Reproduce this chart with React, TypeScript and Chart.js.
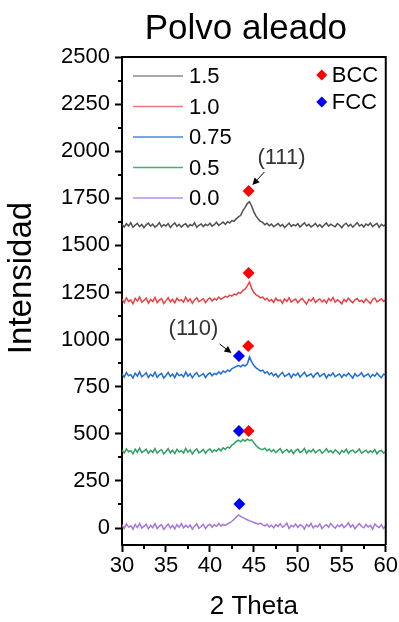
import React, { useEffect, useRef } from 'react';
import { Chart, registerables } from 'chart.js';

Chart.register(...registerables);

// 2θ (degrees)
const twoTheta = [
  30, 30.25, 30.5, 30.75, 31, 31.25, 31.5, 31.75, 32, 32.25,
  32.5, 32.75, 33, 33.25, 33.5, 33.75, 34, 34.25, 34.5, 34.75,
  35, 35.25, 35.5, 35.75, 36, 36.25, 36.5, 36.75, 37, 37.25,
  37.5, 37.75, 38, 38.25, 38.5, 38.75, 39, 39.25, 39.5, 39.75,
  40, 40.25, 40.5, 40.75, 41, 41.25, 41.5, 41.75, 42, 42.25,
  42.5, 42.75, 43, 43.25, 43.5, 43.75, 44, 44.25, 44.5, 44.75,
  45, 45.25, 45.5, 45.75, 46, 46.25, 46.5, 46.75, 47, 47.25,
  47.5, 47.75, 48, 48.25, 48.5, 48.75, 49, 49.25, 49.5, 49.75,
  50, 50.25, 50.5, 50.75, 51, 51.25, 51.5, 51.75, 52, 52.25,
  52.5, 52.75, 53, 53.25, 53.5, 53.75, 54, 54.25, 54.5, 54.75,
  55, 55.25, 55.5, 55.75, 56, 56.25, 56.5, 56.75, 57, 57.25,
  57.5, 57.75, 58, 58.25, 58.5, 58.75, 59, 59.25, 59.5, 59.75,
  60,
];

const seriesLabels = ['1.5', '1.0', '0.75', '0.5', '0.0'];

const intensity15 = [
  1612, 1598, 1615, 1603, 1620, 1596, 1608, 1617, 1600, 1611,
  1594, 1609, 1618, 1602, 1613, 1597, 1606, 1621, 1599, 1610,
  1603, 1616, 1595, 1608, 1619, 1601, 1612, 1597, 1609, 1615,
  1598, 1611, 1604, 1620, 1596, 1607, 1614, 1600, 1612, 1605,
  1618, 1602, 1610, 1623, 1606, 1615, 1624, 1612, 1626, 1619,
  1632, 1628, 1641, 1652, 1660, 1685, 1702, 1722, 1732, 1708,
  1678, 1655, 1640, 1628, 1622, 1610, 1618, 1604, 1613, 1599,
  1608, 1616, 1602, 1611, 1595, 1607, 1618, 1601, 1610, 1604,
  1615, 1597, 1609, 1620, 1603, 1612, 1598, 1606, 1617, 1600,
  1611, 1596, 1608, 1619, 1602, 1613, 1605, 1599, 1616, 1607,
  1594, 1610, 1618, 1601, 1612, 1597, 1608, 1621, 1603, 1611,
  1598, 1614, 1606, 1619, 1600, 1609, 1617, 1596, 1612, 1604,
  1610,
];

const intensity10 = [
  1215, 1196, 1222, 1203, 1211, 1190, 1219, 1205, 1226, 1198,
  1209, 1221, 1194, 1213, 1202, 1224, 1197, 1210, 1218, 1192,
  1207, 1223, 1200, 1214, 1195, 1220, 1206, 1212, 1199, 1225,
  1203, 1216, 1193, 1211, 1222, 1201, 1209, 1217, 1196, 1213,
  1221, 1205, 1218, 1210, 1226, 1214, 1222, 1230, 1225, 1236,
  1231, 1242, 1238, 1250, 1247, 1262, 1268, 1285, 1306, 1272,
  1250, 1238, 1231, 1222, 1226, 1212, 1219, 1204, 1213, 1198,
  1220, 1206, 1211, 1193, 1216, 1203, 1222, 1199, 1208, 1215,
  1196, 1210, 1219, 1202, 1188, 1214, 1205, 1221, 1197, 1208,
  1216, 1200, 1211, 1194, 1218, 1206, 1223, 1199, 1212, 1203,
  1190, 1214, 1201, 1220, 1207, 1195, 1211, 1218, 1202, 1209,
  1197, 1216, 1204, 1192, 1213, 1221, 1200, 1208, 1217, 1203,
  1211,
];

const intensity075 = [
  818, 801, 825, 808, 814, 797, 822, 806, 829, 803,
  812, 824, 799, 816, 805, 827, 800, 813, 821, 796,
  810, 826, 804, 817, 798, 823, 809, 815, 802, 828,
  806, 819, 797, 814, 825, 804, 811, 820, 799, 816,
  824, 808, 821, 815, 829, 818, 833, 826, 838, 832,
  846, 851, 858, 862, 856, 866, 860, 870, 908, 882,
  862, 850, 842, 833, 838, 822, 830, 814, 824, 808,
  819, 801, 815, 826, 805, 812, 821, 798, 817, 809,
  823, 802, 814, 827, 806, 811, 819, 800, 816, 825,
  804, 813, 820, 797, 815, 808, 824, 803, 811, 818,
  799, 816, 807, 822, 810, 796, 819, 805, 813, 824,
  802, 811, 818, 800, 815, 806, 823, 809, 798, 817,
  812,
];

const intensity05 = [
  414, 398, 420, 405, 411, 394, 418, 402, 424, 400,
  409, 419, 396, 412, 401, 422, 397, 410, 416, 393,
  406, 421, 399, 413, 395, 418, 404, 411, 398, 423,
  402, 415, 394, 410, 420, 399, 407, 417, 396, 412,
  419, 403, 415, 408, 422, 410, 426, 418, 430, 425,
  441, 448, 460, 466, 458, 470, 462, 472, 465, 468,
  452, 438, 426, 420, 416, 424, 410, 419, 405, 416,
  400, 412, 421, 398, 409, 417, 402, 414, 395, 411,
  419, 401, 408, 423, 397, 413, 404, 418, 399, 410,
  416, 396, 407, 421, 403, 412, 398, 415, 405, 393,
  411, 402, 418, 396, 409, 414, 400, 407, 419, 397,
  405, 413, 399, 410, 402, 416, 394, 408, 412, 398,
  406,
];

const intensity00 = [
  16, -2, 22, 5, 12, -6, 19, 3, 25, 0,
  9, 20, -4, 14, 2, 23, -3, 11, 17, -7,
  7, 21, 0, 13, -5, 18, 4, 24, 1, 15,
  3, 16, -6, 10, 22, -1, 8, 19, -3, 13,
  20, 4, 17, 9, 24, 11, 19, 14, 22, 28,
  36, 47, 58, 70, 62, 55, 50, 44, 38, 35,
  29, 25, 21, 26, 17, 12, 20, 6, 15, 1,
  18, 9, 23, 4, 12, 26, -2, 14, 7, 21,
  3, 17, 10, -5, 19, 8, 24, 0, 13, 6,
  22, -3, 11, 18, 4, 25, 9, -1, 16, 7,
  20, 2, 13, 28, 5, 17, -4, 12, 23, 8,
  1, 19, 6, 14, -6, 21, 10, 3, 17, -2,
  11,
];

const bccAngles = [44.4, 44.4, 44.35, 44.4];
const bccIntensities = [1789, 1354, 966, 515];
const fccAngles = [43.3, 43.3, 43.35];
const fccIntensities = [913, 515, 127];

const yTickValues = [0, 250, 500, 750, 1000, 1250, 1500, 1750, 2000, 2250, 2500];
const yMinorValues = [125, 375, 625, 875, 1125, 1375, 1625, 1875, 2125, 2375];
const xMinorValues = [32.5, 37.5, 42.5, 47.5, 52.5, 57.5];

const FONT = '"Liberation Sans", Arial, Helvetica, sans-serif';

const lineColors = ['#505050', '#ea4244', '#1e6ed8', '#2ea062', '#a676dc'];
const legendLineColors = ['#8a8a8a', '#f07a7a', '#4a88e0', '#3cb36f', '#b690e2'];

const annotations = [
  { text: '(111)', tx: 45.4, ty: 1964, from: [46.2, 1890], to: [44.83, 1821] },
  { text: '(110)', tx: 35.3, ty: 1056, from: [41.1, 977], to: [42.45, 929] },
];

const decorPlugin = {
  id: 'decor',
  afterDraw(chart: any) {
    const { ctx, chartArea: a, scales } = chart;
    const xs = scales.x;
    const ys = scales.y;
    ctx.save();
    // frame top & right
    ctx.strokeStyle = '#000';
    ctx.lineWidth = 2;
    ctx.beginPath();
    ctx.moveTo(a.left, a.top);
    ctx.lineTo(a.right, a.top);
    ctx.lineTo(a.right, a.bottom);
    ctx.stroke();
    // minor ticks
    ctx.lineWidth = 2;
    ctx.beginPath();
    yMinorValues.forEach((v) => {
      const py = Math.round(ys.getPixelForValue(v));
      ctx.moveTo(a.left, py);
      ctx.lineTo(a.left - 4, py);
    });
    xMinorValues.forEach((v) => {
      const px = Math.round(xs.getPixelForValue(v));
      ctx.moveTo(px, a.bottom);
      ctx.lineTo(px, a.bottom + 4);
    });
    ctx.stroke();

    // title
    ctx.fillStyle = '#000';
    ctx.font = `35px ${FONT}`;
    ctx.textAlign = 'center';
    ctx.textBaseline = 'alphabetic';
    ctx.fillText('Polvo aleado', (a.left + a.right) / 2 - 8, 39);

    // y-axis title
    ctx.save();
    ctx.translate(22, 278);
    ctx.rotate(-Math.PI / 2);
    ctx.font = `33px ${FONT}`;
    ctx.textAlign = 'center';
    ctx.textBaseline = 'middle';
    ctx.fillText('Intensidad', 0, 0);
    ctx.restore();

    // series legend
    ctx.font = `22px ${FONT}`;
    ctx.textAlign = 'left';
    ctx.textBaseline = 'middle';
    seriesLabels.forEach((lab, i) => {
      const yy = a.top + 19 + i * 30.5;
      ctx.strokeStyle = legendLineColors[i];
      ctx.lineWidth = 1.5;
      ctx.beginPath();
      ctx.moveTo(a.left + 11, yy);
      ctx.lineTo(a.left + 61, yy);
      ctx.stroke();
      ctx.fillStyle = '#000';
      ctx.fillText(lab, a.left + 67, yy + 1);
    });

    // marker legend
    const mk = [
      { label: 'BCC', color: '#ff0000' },
      { label: 'FCC', color: '#0000ff' },
    ];
    mk.forEach((m, i) => {
      const cx = a.right - 64;
      const cy = a.top + 18 + i * 27;
      const r = 5.5;
      ctx.fillStyle = m.color;
      ctx.beginPath();
      ctx.moveTo(cx, cy - r);
      ctx.lineTo(cx + r, cy);
      ctx.lineTo(cx, cy + r);
      ctx.lineTo(cx - r, cy);
      ctx.closePath();
      ctx.fill();
      ctx.fillStyle = '#000';
      ctx.fillText(m.label, cx + 10, cy + 1);
    });

    // annotations
    annotations.forEach((an) => {
      ctx.fillStyle = '#333';
      ctx.font = `22px ${FONT}`;
      ctx.textAlign = 'left';
      ctx.textBaseline = 'middle';
      ctx.fillText(an.text, xs.getPixelForValue(an.tx), ys.getPixelForValue(an.ty));
      const x1 = xs.getPixelForValue(an.from[0]);
      const y1 = ys.getPixelForValue(an.from[1]);
      const x2 = xs.getPixelForValue(an.to[0]);
      const y2 = ys.getPixelForValue(an.to[1]);
      const ang = Math.atan2(y2 - y1, x2 - x1);
      const hl = 7;
      const hw = 3.5;
      const bx = x2 - hl * Math.cos(ang);
      const by = y2 - hl * Math.sin(ang);
      ctx.strokeStyle = '#000';
      ctx.lineWidth = 1;
      ctx.beginPath();
      ctx.moveTo(x1, y1);
      ctx.lineTo(bx, by);
      ctx.stroke();
      ctx.fillStyle = '#000';
      ctx.beginPath();
      ctx.moveTo(x2, y2);
      ctx.lineTo(bx - hw * Math.sin(ang), by + hw * Math.cos(ang));
      ctx.lineTo(bx + hw * Math.sin(ang), by - hw * Math.cos(ang));
      ctx.closePath();
      ctx.fill();
    });
    ctx.restore();
  },
};

export default function App() {
  const ref = useRef<HTMLCanvasElement | null>(null);
  useEffect(() => {
    if (!ref.current) return;
    const all = [intensity15, intensity10, intensity075, intensity05, intensity00];
    const lineSets = all.map((arr, i) => ({
      type: 'line' as const,
      label: seriesLabels[i],
      data: twoTheta.map((x, j) => ({ x, y: arr[j] })),
      borderColor: lineColors[i],
      borderWidth: 1.5,
      pointRadius: 0,
      tension: 0,
      order: 2,
    }));
    const chart = new Chart(ref.current, {
      type: 'line',
      data: {
        datasets: [
          ...lineSets,
          {
            type: 'scatter' as const,
            label: 'BCC',
            data: bccAngles.map((x, j) => ({ x, y: bccIntensities[j] })),
            backgroundColor: '#ff0000',
            borderColor: '#ff0000',
            borderWidth: 0,
            pointStyle: 'rectRot',
            pointRadius: 6,
            order: 1,
          },
          {
            type: 'scatter' as const,
            label: 'FCC',
            data: fccAngles.map((x, j) => ({ x, y: fccIntensities[j] })),
            backgroundColor: '#0000ff',
            borderColor: '#0000ff',
            borderWidth: 0,
            pointStyle: 'rectRot',
            pointRadius: 6,
            order: 1,
          },
        ] as any,
      },
      options: {
        responsive: false,
        animation: false,
        devicePixelRatio: 1,
        layout: { padding: { top: 57, right: 12, bottom: 0, left: 0 } },
        plugins: { legend: { display: false }, tooltip: { enabled: false }, title: { display: false } },
        scales: {
          x: {
            type: 'linear',
            min: 30,
            max: 60,
            ticks: { stepSize: 5, maxRotation: 0, autoSkip: false, color: '#000', padding: 1, font: { family: FONT, size: 22 }, callback: (v: any) => String(v) },
            grid: { display: true, drawOnChartArea: false, drawTicks: true, tickLength: 7, tickWidth: 2, tickColor: '#000' },
            border: { display: true, color: '#000', width: 2 },
            title: { display: true, text: '2 Theta', color: '#000', font: { family: FONT, size: 26, lineHeight: 1.2 }, padding: { top: 0, bottom: 0 } },
            afterFit: (s: any) => { s.height = 77; },
          },
          y: {
            type: 'linear',
            min: -90,
            max: 2500,
            afterBuildTicks: (s: any) => { s.ticks = yTickValues.map((v) => ({ value: v })); },
            ticks: { autoSkip: false, color: '#000', padding: 5, font: { family: FONT, size: 22 }, callback: (v: any) => String(v) },
            grid: { display: true, drawOnChartArea: false, drawTicks: true, tickLength: 7, tickWidth: 2, tickColor: '#000' },
            border: { display: true, color: '#000', width: 2 },
            title: { display: false },
            afterFit: (s: any) => { s.width = 122; },
          },
        },
      } as any,
      plugins: [decorPlugin],
    });
    return () => chart.destroy();
  }, []);
  return (
    <div style={{ position: 'absolute', left: 0, top: 0, width: 399, height: 622, background: '#fff' }}>
      <canvas ref={ref} width={399} height={622} />
    </div>
  );
}
